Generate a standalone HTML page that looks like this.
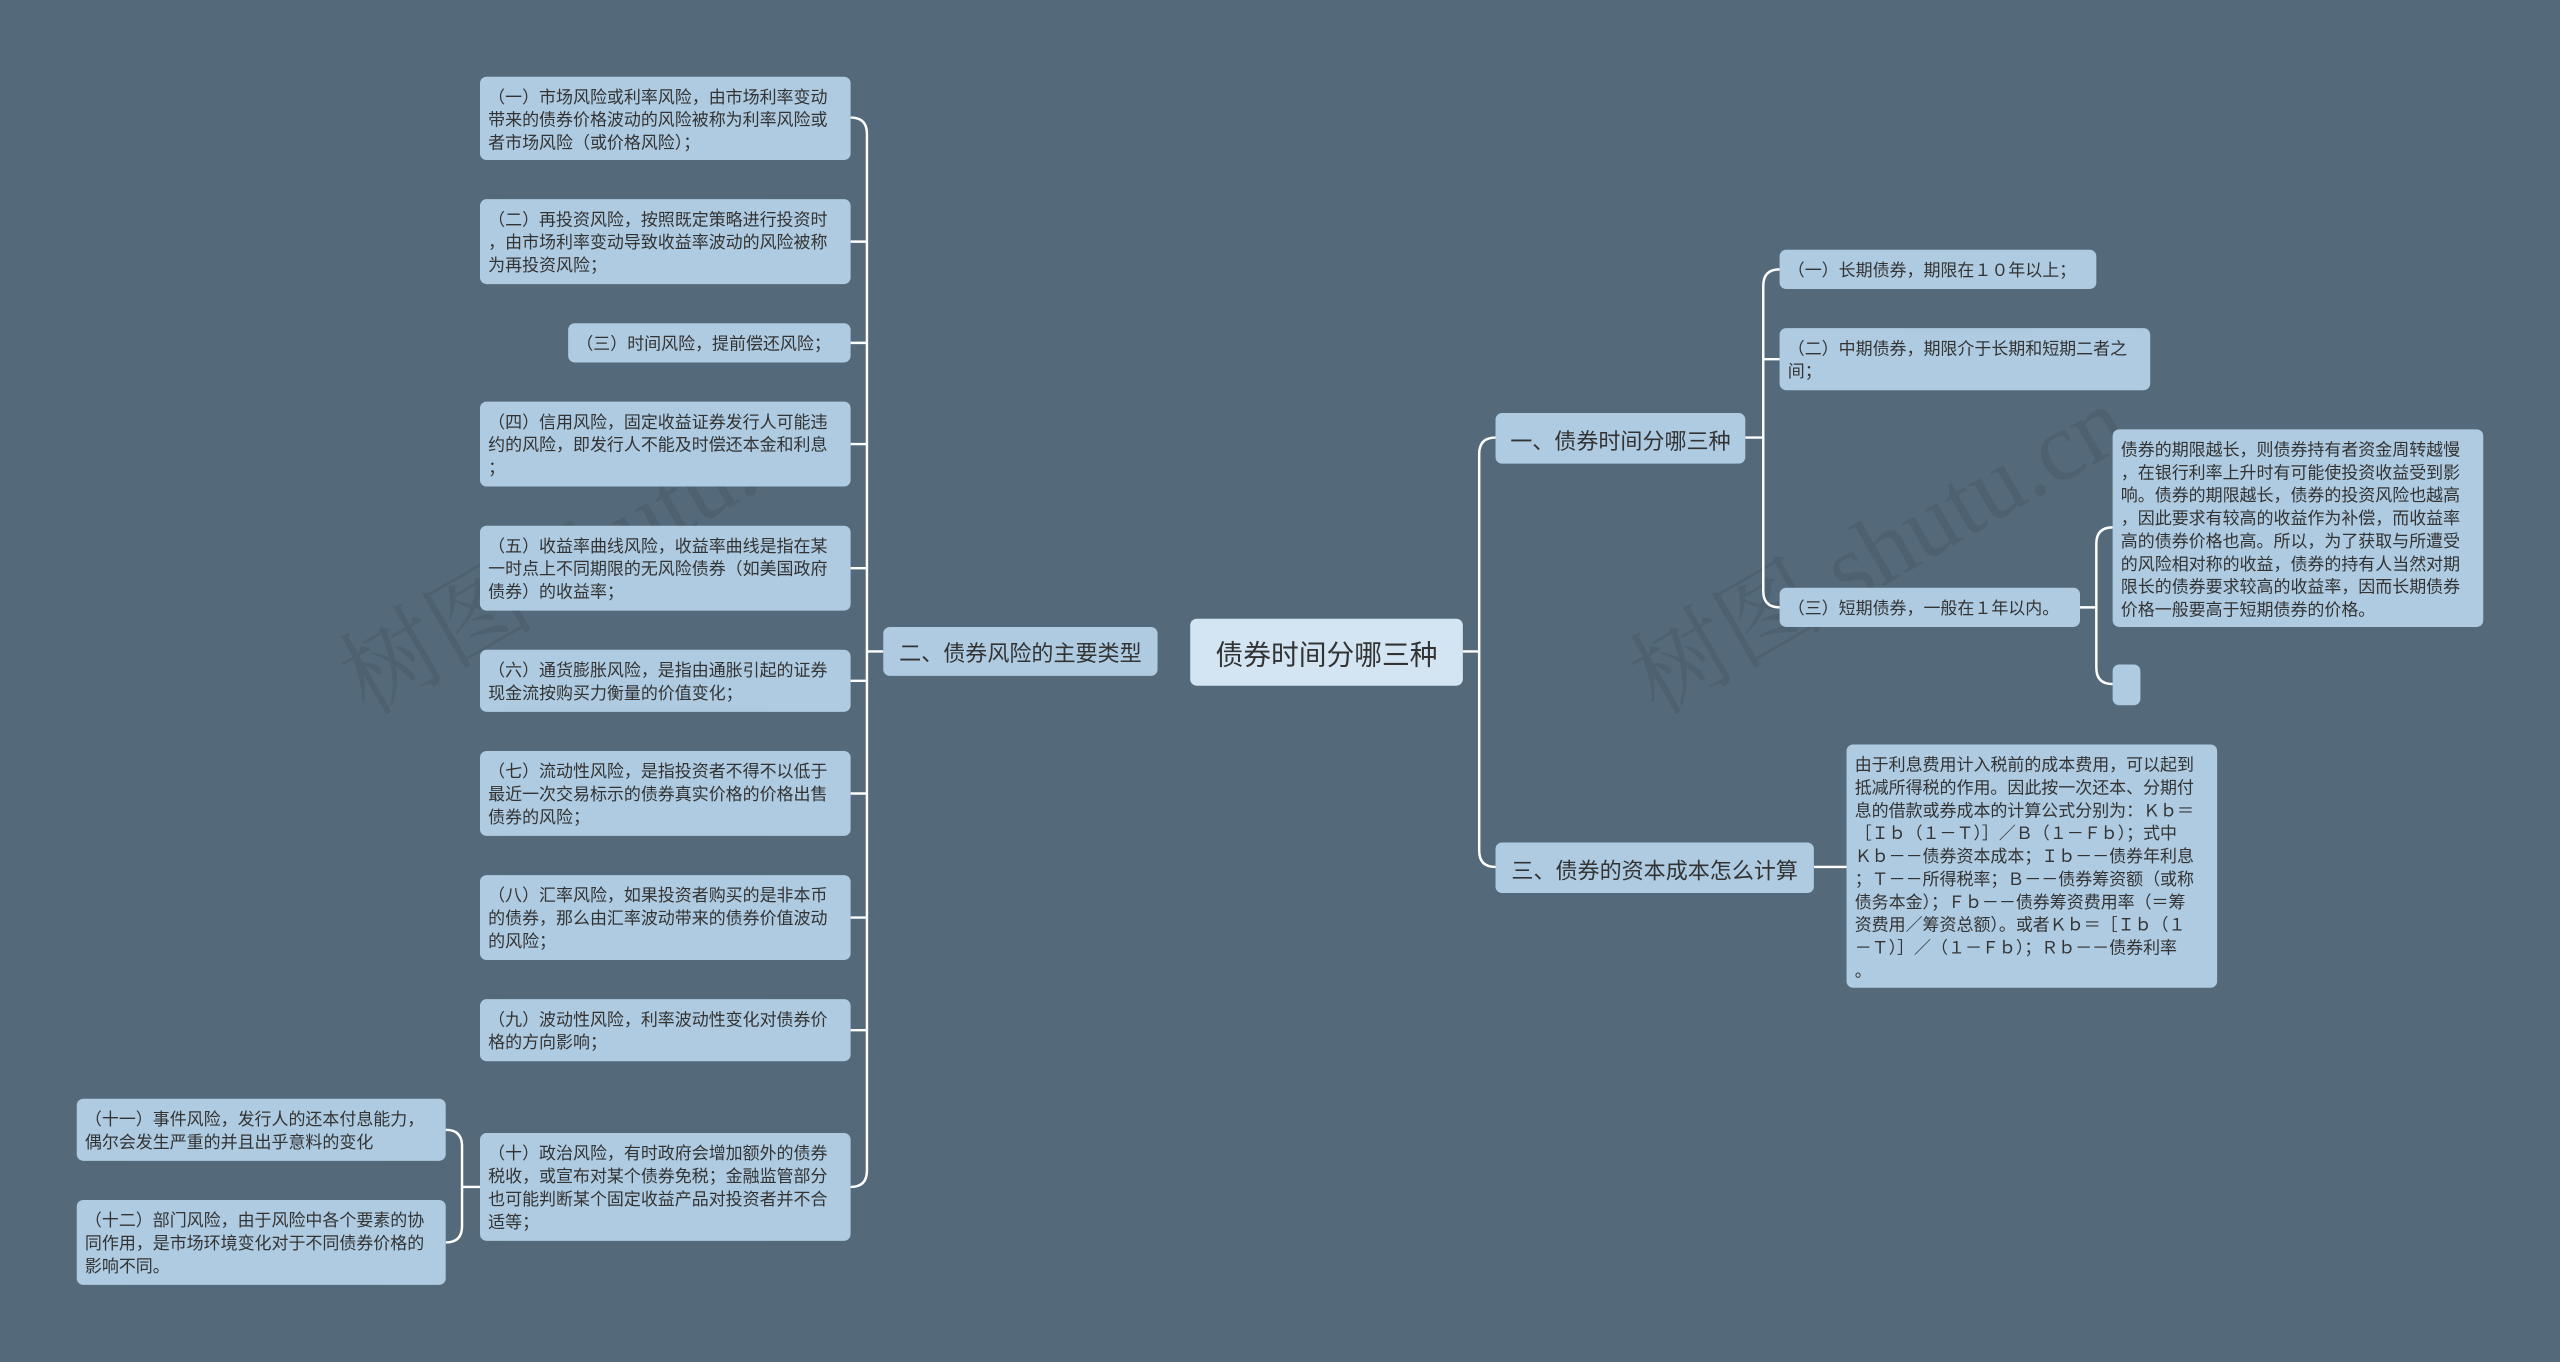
<!DOCTYPE html>
<html><head><meta charset="utf-8">
<style>
html,body{margin:0;padding:0;background:#546a7a;}
body{width:2560px;height:1362px;overflow:hidden;position:relative;}
#c{position:absolute;left:0;top:0;width:1568px;height:834px;transform:scale(1.63265);transform-origin:0 0;font-family:"Liberation Sans","Noto Sans CJK SC",sans-serif;}
.n{position:absolute;background:#aecbe1;border-radius:4px;color:#333;font-size:10.4px;line-height:14px;padding:7px 5px 3px 5px;box-sizing:border-box;white-space:nowrap;}
.b{position:absolute;background:#aecbe1;border-radius:4px;color:#333;font-size:13.5px;box-sizing:border-box;display:flex;align-items:center;justify-content:center;white-space:nowrap;}
svg{position:absolute;left:0;top:0;}
.wm{position:absolute;color:rgba(60,75,90,0.28);font-size:60px;transform:rotate(-30deg);white-space:nowrap;font-family:"Liberation Serif","Noto Serif CJK SC",serif;}
</style></head><body><div id="c">
<div class="wm" style="left:190px;top:290px;">树图 shutu.cn</div>
<div class="wm" style="left:980px;top:290px;">树图 shutu.cn</div>
<svg width="1568" height="834" fill="none" stroke="#ffffff" stroke-width="1.5">
<path d="M541 399 H531"/>
<path d="M521 72 Q531 72 531 82 V717 Q531 727 521 727"/>
<path d="M521 148 H531 M521 210 H531 M521 272 H531 M521 348 H531 M521 417 H531 M521 486 H531 M521 562 H531 M521 631 H531"/>
<path d="M294 727 H283"/>
<path d="M273 692 Q283 692 283 702 V751 Q283 761 273 761"/>
<path d="M896 399 H906"/>
<path d="M916 268 Q906 268 906 278 V521 Q906 531 916 531"/>
<path d="M1069 268 H1080"/>
<path d="M1090 165 Q1080 165 1080 175 V362 Q1080 372 1090 372"/>
<path d="M1090 220 H1080"/>
<path d="M1274 372 H1284"/>
<path d="M1294 323 Q1284 323 1284 333 V409 Q1284 419 1294 419"/>
<path d="M1111 531 H1131"/>
</svg>

<div class="b" style="left:729px;top:379px;width:167px;height:41px;background:#d3e5f2;font-size:17px;">债券时间分哪三种</div>
<div class="b" style="left:541px;top:384px;width:168px;height:30px;">二、债券风险的主要类型</div>
<div class="b" style="left:916px;top:253px;width:153px;height:31px;">一、债券时间分哪三种</div>
<div class="b" style="left:916px;top:516px;width:195px;height:31px;">三、债券的资本成本怎么计算</div>

<div class="n" style="left:294px;top:47px;width:227px;height:51px;">（一）市场风险或利率风险，由市场利率变动<br>带来的债券价格波动的风险被称为利率风险或<br>者市场风险（或价格风险）；</div>
<div class="n" style="left:294px;top:122px;width:227px;height:52px;">（二）再投资风险，按照既定策略进行投资时<br>，由市场利率变动导致收益率波动的风险被称<br>为再投资风险；</div>
<div class="n" style="left:348px;top:198px;width:173px;height:24px;">（三）时间风险，提前偿还风险；</div>
<div class="n" style="left:294px;top:246px;width:227px;height:52px;">（四）信用风险，固定收益证券发行人可能违<br>约的风险，即发行人不能及时偿还本金和利息<br>；</div>
<div class="n" style="left:294px;top:322px;width:227px;height:52px;">（五）收益率曲线风险，收益率曲线是指在某<br>一时点上不同期限的无风险债券（如美国政府<br>债券）的收益率；</div>
<div class="n" style="left:294px;top:398px;width:227px;height:38px;">（六）通货膨胀风险，是指由通胀引起的证券<br>现金流按购买力衡量的价值变化；</div>
<div class="n" style="left:294px;top:460px;width:227px;height:52px;">（七）流动性风险，是指投资者不得不以低于<br>最近一次交易标示的债券真实价格的价格出售<br>债券的风险；</div>
<div class="n" style="left:294px;top:536px;width:227px;height:52px;">（八）汇率风险，如果投资者购买的是非本币<br>的债券，那么由汇率波动带来的债券价值波动<br>的风险；</div>
<div class="n" style="left:294px;top:612px;width:227px;height:38px;">（九）波动性风险，利率波动性变化对债券价<br>格的方向影响；</div>
<div class="n" style="left:294px;top:694px;width:227px;height:66px;">（十）政治风险，有时政府会增加额外的债券<br>税收，或宣布对某个债券免税；金融监管部分<br>也可能判断某个固定收益产品对投资者并不合<br>适等；</div>
<div class="n" style="left:47px;top:673px;width:226px;height:38px;">（十一）事件风险，发行人的还本付息能力，<br>偶尔会发生严重的并且出乎意料的变化</div>
<div class="n" style="left:47px;top:735px;width:226px;height:52px;">（十二）部门风险，由于风险中各个要素的协<br>同作用，是市场环境变化对于不同债券价格的<br>影响不同。</div>

<div class="n" style="left:1090px;top:153px;width:194px;height:24px;">（一）长期债券，期限在１０年以上；</div>
<div class="n" style="left:1090px;top:201px;width:227px;height:38px;">（二）中期债券，期限介于长期和短期二者之<br>间；</div>
<div class="n" style="left:1090px;top:360px;width:184px;height:24px;">（三）短期债券，一般在１年以内。</div>
<div class="n" style="left:1294px;top:263px;width:227px;height:121px;">债券的期限越长，则债券持有者资金周转越慢<br>，在银行利率上升时有可能使投资收益受到影<br>响。债券的期限越长，债券的投资风险也越高<br>，因此要求有较高的收益作为补偿，而收益率<br>高的债券价格也高。所以，为了获取与所遭受<br>的风险相对称的收益，债券的持有人当然对期<br>限长的债券要求较高的收益率，因而长期债券<br>价格一般要高于短期债券的价格。</div>
<div class="n" style="left:1294px;top:407px;width:17px;height:25px;padding:0;"></div>
<div class="n" style="left:1131px;top:456px;width:227px;height:149px;">由于利息费用计入税前的成本费用，可以起到<br>抵减所得税的作用。因此按一次还本、分期付<br>息的借款或券成本的计算公式分别为：Ｋｂ＝<br>［Ｉｂ（１－Ｔ）］／Ｂ（１－Ｆｂ）；式中<br>Ｋｂ－－债券资本成本；Ｉｂ－－债券年利息<br>；Ｔ－－所得税率；Ｂ－－债券筹资额（或称<br>债务本金）；Ｆｂ－－债券筹资费用率（＝筹<br>资费用／筹资总额）。或者Ｋｂ＝［Ｉｂ（１<br>－Ｔ）］／（１－Ｆｂ）；Ｒｂ－－债券利率<br>。</div>
</div></body></html>
